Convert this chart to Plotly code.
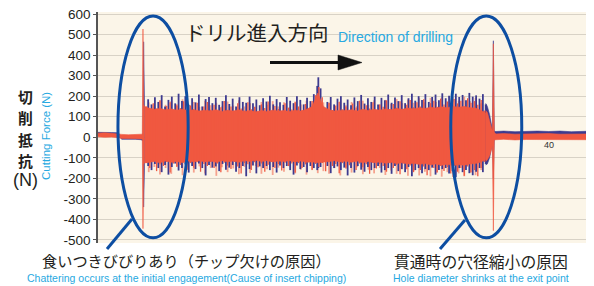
import plotly.graph_objects as go

# ---------------- data ----------------
# quiet part before engagement and first spike (time, s)
t_pre = [0.0, 0.6, 1.2, 1.8, 2.1, 2.7, 3.3, 3.85, 3.93, 3.99, 4.05, 4.12]
red_hi_pre = [20, 22, 19, 18, 14, 12, 13, 12, 15, 527, 160, 150]
red_lo_pre = [2, 0, 1, -2, -6, -8, -7, -8, -10, -445, -130, -125]
blue_hi_pre = [24, 25, 23, 22, -4, -3, -4, -5, 10, 20, 465, 180]
blue_lo_pre = [16, 17, 15, 14, -10, -11, -10, -12, -14, -20, -340, -160]

# main cutting part: solid body of the red series (N)
t_core = [4.15, 4.5, 5.0, 5.5, 6.0, 6.5, 7.0, 7.5, 8.0, 8.5, 9.0,
          9.5, 10.0, 10.5, 11.0, 11.5, 12.0, 12.5, 13.0, 13.5, 14.0,
          14.5, 15.0, 15.5, 16.0, 16.5, 17.0, 17.5, 18.0, 18.5, 19.0,
          19.5, 20.0, 20.5, 21.0, 21.5, 22.0, 22.5, 23.0, 23.5, 24.0,
          24.5, 25.0, 25.5, 26.0, 26.5, 27.0, 27.5, 28.0, 28.5, 29.0,
          29.5, 30.0, 30.5, 31.0, 31.5, 32.0, 32.5, 33.0, 33.5, 34.0, 34.4]
red_core_hi = [150, 142, 136, 140, 134, 138, 132, 136, 130, 134, 128,
               132, 128, 134, 126, 132, 128, 134, 126, 130, 124,
               130, 126, 132, 128, 130, 126, 132, 128, 136, 150,
               215, 150, 134, 128, 132, 130, 134, 128, 136, 130,
               136, 132, 138, 134, 140, 136, 142, 138, 144, 140,
               146, 142, 148, 144, 150, 146, 150, 144, 142, 130, 118]
red_core_lo = [-125, -122, -118, -124, -116, -122, -118, -124, -116, -120, -114,
               -120, -116, -122, -114, -120, -116, -122, -114, -118, -112,
               -118, -114, -120, -116, -118, -114, -120, -116, -122, -120,
               -124, -120, -118, -114, -120, -116, -122, -116, -124, -118,
               -124, -120, -126, -122, -128, -124, -130, -126, -132, -128,
               -134, -130, -136, -132, -138, -134, -136, -130, -128, -120, -108]

# light-red spikes of the red series
pink_hi = [170, 150, 182, 158, 176, 152, 185, 160, 172, 148,
           178, 156, 168, 150, 174, 154, 180, 150, 166, 148,
           172, 158, 176, 150, 170, 146, 174, 160, 178, 165,
           240, 170, 168, 150, 176, 156, 172, 152, 178, 158,
           180, 160, 182, 162, 186, 166, 184, 168, 190, 170,
           192, 172, 194, 176, 196, 178, 198, 176, 192, 165]
pink_lo = [-170, -145, -182, -150, -178, -140, -185, -155, -172, -142,
           -176, -150, -188, -146, -170, -152, -180, -144, -174, -140,
           -178, -156, -184, -148, -168, -142, -176, -158, -182, -160,
           -175, -165, -178, -150, -186, -154, -172, -146, -180, -158,
           -176, -150, -184, -162, -178, -156, -188, -164, -186, -168,
           -190, -172, -192, -170, -194, -176, -190, -172, -185, -160]

# red spikes (per-sample max / min)
t_red = [4.3, 4.6, 4.9, 5.2, 5.5, 5.8, 6.1, 6.4, 6.7, 7.0,
         7.3, 7.6, 7.9, 8.2, 8.5, 8.8, 9.1, 9.4, 9.7, 10.0,
         10.3, 10.6, 10.9, 11.2, 11.5, 11.8, 12.1, 12.4, 12.7, 13.0,
         13.3, 13.6, 13.9, 14.2, 14.5, 14.8, 15.1, 15.4, 15.7, 16.0,
         16.3, 16.6, 16.9, 17.2, 17.5, 17.8, 18.1, 18.4, 18.7, 19.0,
         19.3, 19.6, 19.9, 20.2, 20.5, 20.8, 21.1, 21.4, 21.7, 22.0,
         22.3, 22.6, 22.9, 23.2, 23.5, 23.8, 24.1, 24.4, 24.7, 25.0,
         25.3, 25.6, 25.9, 26.2, 26.5, 26.8, 27.1, 27.4, 27.7, 28.0,
         28.3, 28.6, 28.9, 29.2, 29.5, 29.8, 30.1, 30.4, 30.7, 31.0,
         31.3, 31.6, 31.9, 32.2, 32.5, 32.8, 33.1, 33.4, 33.7, 34.0,
         34.3]
red_hi_main = [150, 132, 165, 140, 178, 128, 152, 170, 135, 160,
               142, 175, 130, 155, 138, 168, 126, 150, 172, 134,
               158, 128, 146, 176, 132, 150, 124, 165, 140, 130,
               170, 136, 148, 126, 160, 142, 174, 130, 152, 138,
               128, 166, 144, 135, 170, 150, 132, 162, 140, 176,
               205, 245, 195, 140, 168, 132, 155, 172, 136, 150,
               128, 164, 145, 178, 134, 156, 140, 170, 130, 160,
               148, 180, 138, 162, 144, 175, 136, 158, 182, 146,
               170, 150, 185, 142, 166, 178, 148, 188, 160, 172,
               152, 186, 165, 178, 150, 190, 168, 176, 158, 182,
               130]
red_lo_main = [-125, -150, -118, -165, -132, -140, -120, -172, -128, -145,
               -135, -118, -160, -126, -148, -122, -168, -130, -140, -120,
               -150, -128, -170, -124, -138, -155, -120, -142, -176, -126,
               -132, -160, -122, -146, -128, -168, -134, -120, -150, -130,
               -162, -124, -140, -128, -172, -126, -150, -132, -120, -158,
               -130, -145, -125, -166, -122, -140, -130, -175, -126, -148,
               -136, -120, -160, -128, -146, -132, -178, -124, -152, -130,
               -140, -168, -126, -150, -134, -180, -128, -156, -138, -170,
               -132, -160, -142, -185, -136, -150, -172, -140, -164, -145,
               -176, -138, -168, -150, -188, -142, -172, -160, -190, -150,
               -120]

# blue series spikes (per-sample max / min)
t_blue = [4.45, 4.75, 5.05, 5.35, 5.65, 5.95, 6.25, 6.55, 6.85, 7.15,
          7.45, 7.75, 8.05, 8.35, 8.65, 8.95, 9.25, 9.55, 9.85, 10.15,
          10.45, 10.75, 11.05, 11.35, 11.65, 11.95, 12.25, 12.55, 12.85, 13.15,
          13.45, 13.75, 14.05, 14.35, 14.65, 14.95, 15.25, 15.55, 15.85, 16.15,
          16.45, 16.75, 17.05, 17.35, 17.65, 17.95, 18.25, 18.55, 18.85, 19.15,
          19.45, 19.55, 19.75, 20.35, 20.65, 20.95, 21.25, 21.55, 21.85, 22.15,
          22.45, 22.75, 23.05, 23.35, 23.65, 23.95, 24.25, 24.55, 24.85, 25.15,
          25.45, 25.75, 26.05, 26.35, 26.65, 26.95, 27.25, 27.55, 27.85, 28.15,
          28.45, 28.75, 29.05, 29.35, 29.65, 29.95, 30.25, 30.55, 30.85, 31.15,
          31.45, 31.75, 32.05, 32.35, 32.65, 32.95, 33.25, 33.55, 33.85, 34.15,
          34.4]
blue_hi_main = [185, 160, 195, 172, 205, 150, 182, 198, 165, 212,
                176, 200, 158, 190, 170, 208, 150, 186, 196, 166,
                192, 158, 176, 204, 162, 188, 150, 195, 172, 168,
                198, 165, 184, 156, 190, 174, 202, 160, 186, 170,
                158, 196, 178, 166, 200, 182, 160, 192, 176, 210,
                250, 292, 238, 172, 196, 160, 188, 200, 168, 184,
                156, 194, 176, 206, 164, 190, 172, 198, 160, 192,
                180, 208, 168, 194, 176, 205, 166, 190, 212, 178,
                200, 182, 210, 172, 196, 208, 180, 214, 190, 202,
                184, 212, 196, 206, 180, 216, 198, 204, 188, 210,
                160]
blue_lo_main = [-140, -160, -130, -150, -170, -135, -182, -145, -128, -162,
                -150, -132, -172, -140, -155, -128, -150, -186, -135, -148,
                -142, -165, -130, -158, -148, -135, -168, -150, -140, -190,
                -155, -138, -176, -142, -150, -140, -160, -145, -172, -138,
                -150, -140, -160, -182, -138, -155, -145, -170, -140, -150,
                -160, -150, -145, -140, -175, -150, -142, -160, -148, -186,
                -150, -172, -140, -158, -168, -145, -160, -150, -140, -172,
                -160, -150, -178, -140, -165, -155, -170, -145, -190, -160,
                -150, -175, -155, -160, -148, -182, -160, -155, -150, -176,
                -165, -195, -150, -170, -160, -175, -185, -168, -150, -170,
                -130]

# exit: taper, second spike, quiet part after break-through
t_post = [34.4, 34.55, 34.75, 34.92, 35.0, 35.08, 35.16,
          35.3, 36.0, 37.0, 38.0, 39.0, 40.0, 41.0, 42.0, 43.3]
red_hi_post = [130, 120, 80, 40, 30, 455, 25, 16, 18, 15, 17, 16, 18, 15, 17, 16]
red_lo_post = [-118, -110, -90, -60, -40, -455, -15, -12, -10, -13, -11, -12, -10, -13, -11, -12]
blue_hi_post = [165, 150, 110, 50, 35, 470, 30, 28, 30, 27, 29, 30, 28, 30, 27, 29]
blue_lo_post = [-135, -130, -100, -50, -30, -200, -10, 12, 14, 11, 13, 12, 14, 11, 13, 12]

y_ticks = [-500, -400, -300, -200, -100, 0, 100, 200, 300, 400, 500, 600]
y_ticklabels = ["-500", "-400", "-300", "-200", "-100", "0",
                "100", "200", "300", "400", "500", "600"]
x_label_tick = 40

# ---------------- build ----------------
RED, PINK, BLUE = "#f05840", "#f5a28e", "#3d3a8f"


def band(t, hi, lo, color):
    return go.Scatter(x=list(t) + list(t)[::-1], y=list(hi) + list(lo)[::-1],
                      fill="toself", fillcolor=color, mode="lines",
                      line=dict(width=0.6, color=color), hoverinfo="skip")


def needles(t, hi, lo, color, width):
    xs, ys = [], []
    for ti, h, l in zip(t, hi, lo):
        xs += [ti, ti, None]
        ys += [l, h, None]
    return go.Scatter(x=xs, y=ys, mode="lines", line=dict(color=color, width=width),
                      connectgaps=False, hoverinfo="skip")


fig = go.Figure()
fig.add_trace(needles(t_core[1:-1], pink_hi, pink_lo, PINK, 1.8))
fig.add_trace(band(t_pre, blue_hi_pre, blue_lo_pre, BLUE))
fig.add_trace(band(t_post, blue_hi_post, blue_lo_post, BLUE))
fig.add_trace(needles(t_blue, blue_hi_main, blue_lo_main, BLUE, 1.8))
fig.add_trace(band(t_pre, red_hi_pre, red_lo_pre, RED))
fig.add_trace(band(t_core, red_core_hi, red_core_lo, RED))
fig.add_trace(band(t_post, red_hi_post, red_lo_post, RED))
fig.add_trace(needles(t_red, red_hi_main, red_lo_main, RED, 1.3))

# page body adds an 8px offset; figure drawn 8px smaller
OFF = 8
W, H = 594 - OFF, 286 - OFF
L, R, T, B = 98 - OFF, 8, 12 - OFF, 43
PW, PH = W - L - R, H - T - B


def px(xp):  # reference-picture x pixel -> paper
    return (xp - OFF - L) / PW


def py(yp):  # reference-picture y pixel -> paper
    return (H - B - (yp - OFF)) / PH


LAT = "Liberation Sans, Arial, sans-serif"
JP = "Noto Sans CJK JP, sans-serif"
CYAN = "#27a9e1"
DARK = "#231f20"
ELL = "#0d4ea2"

shapes = [
    dict(type="circle", xref="x", yref="y", x0=1.77, x1=8.0, y0=-490, y1=590,
         line=dict(color=ELL, width=3)),
    dict(type="circle", xref="x", yref="y", x0=31.3, x1=37.6, y0=-490, y1=590,
         line=dict(color=ELL, width=3)),
    dict(type="line", xref="paper", yref="paper", x0=px(132), y0=py(219), x1=px(107), y1=py(249),
         line=dict(color=ELL, width=3)),
    dict(type="line", xref="paper", yref="paper", x0=px(465), y0=py(220), x1=px(440), y1=py(249),
         line=dict(color=ELL, width=3)),
    dict(type="line", xref="paper", yref="paper", x0=px(270), y0=py(62.5), x1=px(342), y1=py(62.5),
         line=dict(color="#111", width=3)),
    dict(type="path", xref="paper", yref="paper",
         path=f"M {px(338)} {py(55)} L {px(362)} {py(62.5)} L {px(338)} {py(70)} Z",
         fillcolor="#111", line=dict(color="#111", width=0.5)),
]

ann = []


def text(xp, yp, s, size, color, family, xanchor="center", angle=0, weight=None):
    f = dict(size=size, color=color, family=family)
    if weight:
        f["weight"] = weight
    ann.append(dict(x=px(xp), y=py(yp), xref="paper", yref="paper", text=s, showarrow=False,
                    xanchor=xanchor, yanchor="middle", font=f, textangle=angle))


text(257, 32, "ドリル進入方向", 20.5, DARK, JP)
text(336, 37, "Direction of drilling", 14, CYAN, LAT, xanchor="left")
text(186, 260, "食いつきびびりあり（チップ欠けの原因）", 15.2, DARK, JP)
text(186, 278, "Chattering occurs at the initial engagement(Cause of insert chipping)", 10.5, CYAN, LAT)
text(481, 261, "貫通時の穴径縮小の原因", 15.8, DARK, JP)
text(481, 278, "Hole diameter shrinks at the exit point", 10.5, CYAN, LAT)
for ch, yy in [("切", 96), ("削", 117.5), ("抵", 139), ("抗", 160.5)]:
    text(25, yy, ch, 14.8, DARK, JP, weight="bold")
text(25, 180, "(N)", 18, DARK, LAT)
text(46, 136, "Cutting Force (N)", 11.5, CYAN, LAT, angle=-90)

ann.append(dict(x=x_label_tick, y=-37, xref="x", yref="y", text=str(x_label_tick), showarrow=False,
                font=dict(size=9, color="#333", family=LAT)))

fig.update_layout(
    width=W, height=H, margin=dict(l=L, r=R, t=T, b=B, autoexpand=False),
    paper_bgcolor="white", plot_bgcolor="#fbf5e8", showlegend=False,
    shapes=shapes, annotations=ann,
    xaxis=dict(range=[0, 43.3], showgrid=False, zeroline=False, showticklabels=False,
               showline=False, ticks=""),
    yaxis=dict(range=[-515, 610], tickvals=y_ticks, ticktext=y_ticklabels,
               showgrid=True, gridcolor="#d8d2c6", gridwidth=1, zeroline=False,
               showline=True, linecolor="#555", linewidth=1.5,
               ticks="outside", ticklen=3, tickcolor="#555", ticklabeloverflow="allow",
               tickfont=dict(family=LAT, size=13.5, color=DARK)),
)

fig.write_html("out.html")
